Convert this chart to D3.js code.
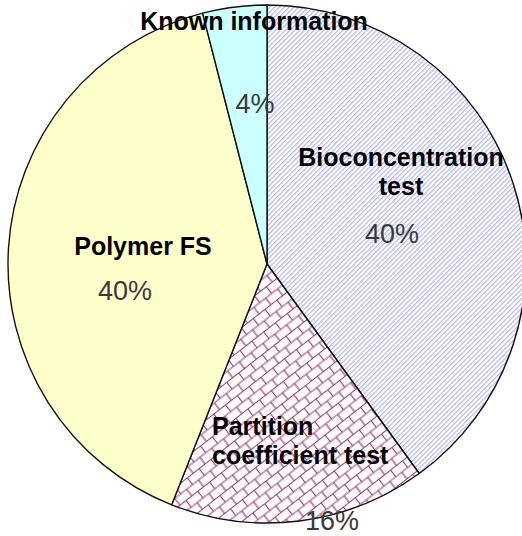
<!DOCTYPE html>
<html>
<head>
<meta charset="utf-8">
<script src="https://cdn.jsdelivr.net/npm/d3@7"></script>
<style>
    body { margin: 0; background: #fff; }
    text { font-family: Arial, "Liberation Sans", sans-serif; }
    .name { font-weight: bold; font-size: 25px; fill: #000; }
    .pct { font-size: 27px; fill: #3a3a3a; }
</style>
</head>
<body>
<div id="grafico"></div>
<script>
// data
const categories = ["Bioconcentration test", "Partition coefficient test", "Polymer FS", "Known information"];
const values = [40, 16, 40, 4];
const nameLines = [["Bioconcentration", "test"], ["Partition", "coefficient test"], ["Polymer FS"], ["Known information"]];
const pctLabels = ["40%", "16%", "40%", "4%"];

const width = 522,
    height = 536,
    radius = 259,
    cx = 267,
    cy = 264;

// label placement relative to the pie centre
const namePos = [
    { x: 134, y: -98, anchor: 'middle' },
    { x: -55, y: 171, anchor: 'start' },
    { x: -124, y: -9, anchor: 'middle' },
    { x: -13, y: -234, anchor: 'middle' }
];
const pctPos = [
    { x: 125, y: -21 },
    { x: 65, y: 266 },
    { x: -142, y: 36 },
    { x: -12, y: -151 }
];
const lineGap = 29;

const svgRoot = d3.select('#grafico').append('svg')
    .attr('width', width)
    .attr('height', height);

const defs = svgRoot.append('defs');

// blue diagonal stripes
const stripes = defs.append('pattern')
    .attr('id', 'stripes')
    .attr('patternUnits', 'userSpaceOnUse')
    .attr('width', 3.4)
    .attr('height', 10)
    .attr('patternTransform', 'rotate(45)');
stripes.append('rect').attr('width', 3.4).attr('height', 10).attr('fill', '#fff');
stripes.append('line')
    .attr('x1', 0.6).attr('y1', 0).attr('x2', 0.6).attr('y2', 10)
    .attr('stroke', '#acb1f4').attr('stroke-width', 1.1);

// maroon diagonal bricks
const bricks = defs.append('pattern')
    .attr('id', 'bricks')
    .attr('patternUnits', 'userSpaceOnUse')
    .attr('width', 15)
    .attr('height', 17)
    .attr('patternTransform', 'rotate(-38)');
bricks.append('rect').attr('width', 15).attr('height', 17).attr('fill', '#fff');
bricks.append('path')
    .attr('d', 'M0,0.5H15M0,9H15M0.5,0.5V9M8,9V17.5')
    .attr('stroke', '#a3386e').attr('stroke-width', 1.2).attr('fill', 'none');

const fills = ['url(#stripes)', 'url(#bricks)', '#ffffcc', '#ccffff'];

let svg = svgRoot.append('g')
    .attr('transform', 'translate(' + cx + ',' + cy + ')');

let pie = d3.pie().sort(null).value(d => d);
let arc = d3.arc().innerRadius(0).outerRadius(radius);

let slices = pie(values).map((p, i) => Object.assign(p, { name: categories[i] }));

svg.append('g')
    .selectAll('path')
    .data(slices)
    .enter()
    .append('path')
    .attr('d', arc)
    .attr('fill', (d, i) => fills[i])
    .attr('stroke', '#111')
    .attr('stroke-width', 1.4)
    .attr('stroke-linejoin', 'round');

// name labels
let names = svg.append('g')
    .selectAll('text')
    .data(slices)
    .enter()
    .append('text')
    .attr('class', 'name')
    .attr('text-anchor', (d, i) => namePos[i].anchor)
    .attr('transform', (d, i) => 'translate(' + namePos[i].x + ',' + namePos[i].y + ')');

names.selectAll('tspan')
    .data((d, i) => nameLines[i])
    .enter()
    .append('tspan')
    .attr('x', 0)
    .attr('y', (d, j) => j * lineGap)
    .text(d => d);

// percentage labels
svg.append('g')
    .selectAll('text')
    .data(slices)
    .enter()
    .append('text')
    .attr('class', 'pct')
    .attr('text-anchor', 'middle')
    .attr('x', (d, i) => pctPos[i].x)
    .attr('y', (d, i) => pctPos[i].y)
    .text((d, i) => pctLabels[i]);
</script>
</body>
</html>
